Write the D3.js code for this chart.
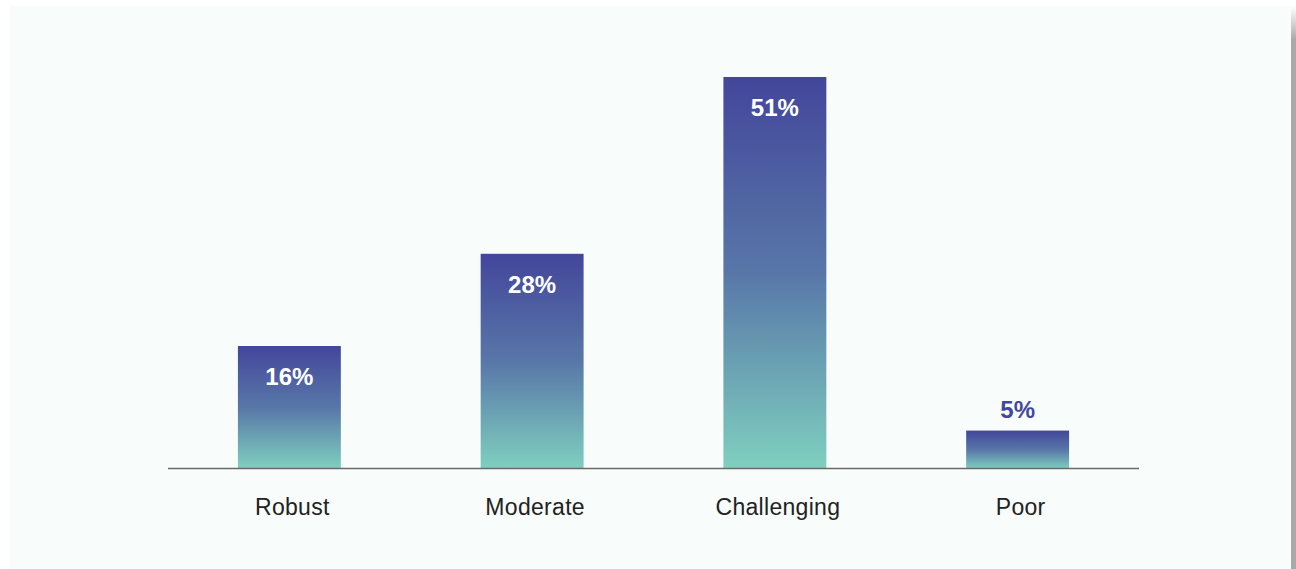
<!DOCTYPE html>
<html>
<head>
<meta charset="utf-8">
<script src="https://cdn.jsdelivr.net/npm/d3@7"></script>
<style>
  html, body { margin: 0; padding: 0; background: #ffffff; }
  svg { display: block; }
</style>
</head>
<body>
<svg id="chart" width="1296" height="569"></svg>
<script>
const categories = ["Robust", "Moderate", "Challenging", "Poor"];
const values = [16, 28, 51, 5];
const valueLabels = ["16%", "28%", "51%", "5%"];

const W = 1296, H = 569;
const svg = d3.select("#chart");

const defs = svg.append("defs");
const shadow = defs.append("linearGradient").attr("id", "shadowGrad")
  .attr("x1", 0).attr("y1", 0).attr("x2", 0).attr("y2", 1);
shadow.append("stop").attr("offset", 0).attr("stop-color", "#ffffff");
shadow.append("stop").attr("offset", 0.06).attr("stop-color", "#a9a9a9");
shadow.append("stop").attr("offset", 1).attr("stop-color", "#a9a9a9");

const grad = defs.append("linearGradient").attr("id", "barGrad")
  .attr("x1", 0).attr("y1", 0).attr("x2", 0).attr("y2", 1);
grad.append("stop").attr("offset", 0).attr("stop-color", "#43469b");
grad.append("stop").attr("offset", 0.5).attr("stop-color", "#5877a8");
grad.append("stop").attr("offset", 1).attr("stop-color", "#7fd0bf");

// panel shadow and background
svg.append("rect").attr("x", 1291).attr("y", 6).attr("width", 5).attr("height", H - 6)
  .attr("fill", "url(#shadowGrad)");
svg.append("rect").attr("x", 10).attr("y", 6).attr("width", 1281).attr("height", H - 6)
  .attr("fill", "#f8fcfb");

const x0 = 168, x1 = 1139, baseY = 469, topY = 77;
const x = d3.scaleBand().domain(categories).range([x0, x1])
  .paddingInner(0.576).paddingOuter(0.288);
const y = d3.scaleLinear().domain([0, 51]).range([baseY, topY]);

const g = svg.append("g");

g.selectAll("rect.bar").data(categories).join("rect")
  .attr("class", "bar")
  .attr("x", d => x(d))
  .attr("y", (d, i) => y(values[i]))
  .attr("width", x.bandwidth())
  .attr("height", (d, i) => baseY - y(values[i]))
  .attr("fill", "url(#barGrad)");

// baseline
g.append("line").attr("x1", x0).attr("x2", x1).attr("y1", baseY - 0.5).attr("y2", baseY - 0.5)
  .attr("stroke", "#6a6a6a").attr("stroke-width", 1.6);

// value labels
g.selectAll("text.val").data(categories).join("text")
  .attr("class", "val")
  .attr("x", d => x(d) + x.bandwidth() / 2)
  .attr("y", (d, i) => {
    const top = y(values[i]);
    return (baseY - top) > 60 ? top + 39 : top - 13;
  })
  .attr("text-anchor", "middle")
  .attr("font-family", "'Liberation Sans', Arial, Helvetica, sans-serif")
  .attr("font-weight", "bold")
  .attr("font-size", 24)
  .attr("fill", (d, i) => (baseY - y(values[i])) > 60 ? "#ffffff" : "#4447a0")
  .text((d, i) => valueLabels[i]);

// category axis
const axis = d3.axisBottom(x).tickSize(0).tickPadding(0);
const ag = g.append("g").attr("transform", `translate(0,${baseY})`).call(axis);
ag.select(".domain").remove();
ag.selectAll("text")
  .attr("x", 3)
  .attr("y", 46)
  .attr("dy", 0)
  .attr("font-family", "'Liberation Sans', Arial, Helvetica, sans-serif")
  .attr("font-size", 23)
  .attr("letter-spacing", "0.3px")
  .attr("fill", "#222222");
</script>
</body>
</html>
